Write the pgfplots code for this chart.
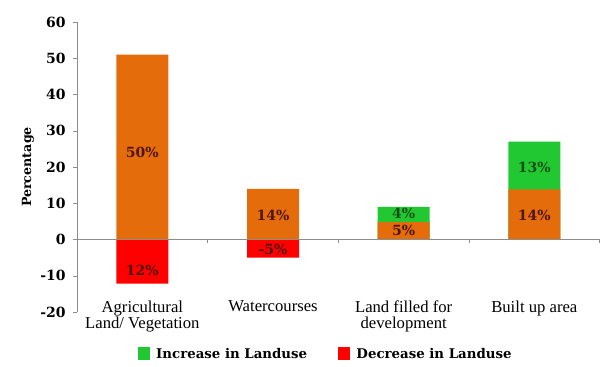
\documentclass[border=0pt]{standalone}
\usepackage{fontspec}
\setmainfont{Liberation Serif}
\newfontfamily\bserif{DejaVu Serif}
\usepackage{pgfplots}
\pgfplotsset{compat=1.18}
\definecolor{orangebar}{RGB}{228,108,10}
\definecolor{redbar}{RGB}{255,0,0}
\definecolor{greenbar}{RGB}{34,200,50}
\definecolor{txtbrown}{RGB}{80,20,10}
\definecolor{txtgreen}{RGB}{20,80,20}
\definecolor{axgray}{RGB}{140,140,140}
\begin{document}
\begin{tikzpicture}
\begin{axis}[
  name=ax,
  scale only axis,
  width=392pt, height=217.5pt,
  xmin=-0.5, xmax=3.5, ymin=-20, ymax=60,
  ytick={-20,-10,...,60},
  xtick={0,1,2,3},
  xticklabels={{Agricultural\\Land/ Vegetation},{Watercourses},{Land filled for\\development},{Built up area}},
  xticklabel style={align=center, font=\fontsize{12.5}{12}\selectfont, yshift=15pt, text depth=0pt},
  x axis line style={draw=none},
  axis y line*=left,
  axis x line*=bottom,
  y axis line style={draw=axgray},
  major x tick style={draw=none},
  y tick style={draw=axgray},
  tick align=outside,
  major tick length=3pt,
  yticklabel style={font=\bserif\bfseries\fontsize{10.5}{11}\selectfont, xshift=-2pt},
  /pgf/number format/assume math mode=true,
  ylabel={\bserif\bfseries Percentage},
  ylabel style={font=\fontsize{9.5}{11}\selectfont, yshift=-2pt},
  ybar, bar width=39pt, bar shift=0pt,
  legend style={at={(0.48,-0.148)}, anchor=center, draw=none, legend columns=2,
    font=\bserif\bfseries\fontsize{10}{11}\selectfont,
    /tikz/every even column/.append style={column sep=18pt},
    nodes={inner xsep=5pt}},
  legend image code/.code={\fill[#1] (-4pt,-4pt) rectangle (5pt,6pt);},
  clip=false,
]
% green: cumulative tops (orange + increase)
\addplot[fill=greenbar, draw=none] coordinates {(2,9) (3,27)};
\addlegendentry{Increase in Landuse}
\addplot[fill=redbar, draw=none] coordinates {(0,-12.2) (1,-5)};
\addlegendentry{Decrease in Landuse}
\addplot[fill=orangebar, draw=none, forget plot] coordinates {(0,51) (1,14) (2,4.8) (3,13.8)};
\draw[axgray] (axis cs:-0.5,0) -- (axis cs:3.5,0);
\draw[axgray] (axis cs:0.5,0) -- ([yshift=-3pt]axis cs:0.5,0);
\draw[axgray] (axis cs:1.5,0) -- ([yshift=-3pt]axis cs:1.5,0);
\draw[axgray] (axis cs:2.5,0) -- ([yshift=-3pt]axis cs:2.5,0);
\draw[axgray] (axis cs:3.5,0) -- ([yshift=-3pt]axis cs:3.5,0);
\begin{scope}[font=\bserif\bfseries\fontsize{10.5}{12}\selectfont]
\node[txtbrown] at (axis cs:0,24) {50\%};
\node[txtbrown] at (axis cs:0,-8.6) {12\%};
\node[txtbrown] at (axis cs:1,6.6) {14\%};
\node[txtbrown] at (axis cs:1,-2.6) {-5\%};
\node[txtgreen] at (axis cs:2,7.2) {4\%};
\node[txtbrown] at (axis cs:2,2.6) {5\%};
\node[txtgreen] at (axis cs:3,20) {13\%};
\node[txtbrown] at (axis cs:3,6.6) {14\%};
\end{scope}
\end{axis}
\pgfresetboundingbox
\path[use as bounding box] (-57.75pt,-41.25pt) rectangle (394.5pt,234pt);
\end{tikzpicture}
\end{document}
